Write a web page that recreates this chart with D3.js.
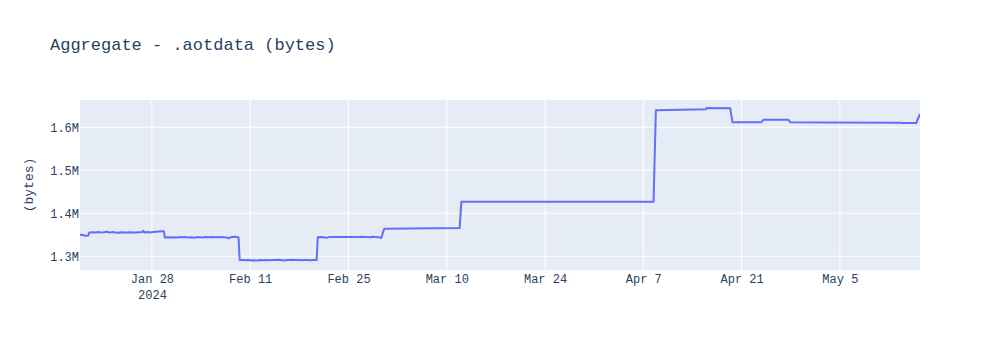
<!DOCTYPE html>
<html>
  <head>
    <meta charset="utf-8" />
    <title>Aggregate - .aotdata (bytes)</title>
    <style>
      body {
        margin: 0;
        background: #fff;
      }
      text {
        font-family: "Courier New", "Liberation Mono", monospace;
        fill: #2a3f5f;
      }
      .line {
        fill: none;
        stroke: #636efa;
        stroke-width: 2px;
        stroke-linejoin: round;
      }
      .grid line {
        stroke: #fff;
        stroke-width: 1px;
      }
    </style>
    <script src="https://d3js.org/d3.v7.min.js"></script>
  </head>
  <body>
    <div id="chart"></div>
    <script>
      // sample times and aggregate size (bytes)
      const times = [
        "2024-01-17T18:00", "2024-01-18T04:00", "2024-01-18T12:00", "2024-01-18T22:00",
        "2024-01-19T02:00", "2024-01-19T12:00", "2024-01-19T22:00", "2024-01-20T08:00",
        "2024-01-20T18:00", "2024-01-21T04:00", "2024-01-21T14:00", "2024-01-22T00:00",
        "2024-01-22T10:00", "2024-01-22T20:00", "2024-01-23T06:00", "2024-01-23T16:00",
        "2024-01-24T02:00", "2024-01-24T12:00", "2024-01-24T22:00", "2024-01-25T08:00",
        "2024-01-25T18:00", "2024-01-26T04:00", "2024-01-26T14:00", "2024-01-26T18:00",
        "2024-01-26T22:00", "2024-01-27T08:00", "2024-01-27T18:00", "2024-01-28T04:00",
        "2024-01-28T14:00", "2024-01-29T00:00", "2024-01-29T12:00", "2024-01-29T17:00",
        "2024-01-29T20:00",
        "2024-01-30T06:00", "2024-01-30T16:00", "2024-01-31T02:00", "2024-01-31T12:00",
        "2024-01-31T22:00", "2024-02-01T08:00", "2024-02-01T18:00", "2024-02-02T04:00",
        "2024-02-02T14:00", "2024-02-03T00:00", "2024-02-03T10:00", "2024-02-03T20:00",
        "2024-02-04T06:00", "2024-02-04T16:00", "2024-02-05T02:00", "2024-02-05T12:00",
        "2024-02-05T22:00", "2024-02-06T08:00", "2024-02-06T18:00", "2024-02-07T04:00",
        "2024-02-07T14:00", "2024-02-08T00:00", "2024-02-08T06:00", "2024-02-08T16:00",
        "2024-02-09T02:00", "2024-02-09T08:00", "2024-02-09T12:00",
        "2024-02-09T22:00", "2024-02-10T08:00", "2024-02-10T18:00", "2024-02-11T04:00",
        "2024-02-11T14:00", "2024-02-12T00:00", "2024-02-12T10:00", "2024-02-12T20:00",
        "2024-02-13T06:00", "2024-02-13T16:00", "2024-02-14T02:00", "2024-02-14T12:00",
        "2024-02-14T22:00", "2024-02-15T08:00", "2024-02-15T18:00", "2024-02-16T04:00",
        "2024-02-16T14:00", "2024-02-17T00:00", "2024-02-17T10:00", "2024-02-17T20:00",
        "2024-02-18T06:00", "2024-02-18T16:00", "2024-02-19T02:00", "2024-02-19T12:00",
        "2024-02-19T22:00", "2024-02-20T08:00", "2024-02-20T11:00", "2024-02-20T15:00",
        "2024-02-21T00:00", "2024-02-21T10:00", "2024-02-21T20:00", "2024-02-22T06:00",
        "2024-02-22T16:00", "2024-02-23T02:00", "2024-02-23T12:00", "2024-02-23T22:00",
        "2024-02-24T08:00", "2024-02-24T18:00", "2024-02-25T04:00", "2024-02-25T14:00",
        "2024-02-26T00:00", "2024-02-26T10:00", "2024-02-26T20:00", "2024-02-27T06:00",
        "2024-02-27T16:00", "2024-02-28T02:00", "2024-02-28T12:00", "2024-02-28T22:00",
        "2024-02-29T08:00", "2024-02-29T16:00", "2024-03-01T02:00",
        "2024-03-11T20:00", "2024-03-12T02:00", "2024-04-08T11:00", "2024-04-08T19:00",
        "2024-04-15T21:00", "2024-04-16T01:00", "2024-04-19T09:00", "2024-04-19T17:00",
        "2024-04-23T19:00", "2024-04-24T03:00", "2024-04-27T16:00", "2024-04-27T22:00",
        "2024-05-04T01:00", "2024-05-13T20:00", "2024-05-13T22:00", "2024-05-15T21:00",
        "2024-05-16T10:00"
      ];
      const sizes = [
        1350000, 1349500, 1347500, 1348000,
        1355500, 1356000, 1355000, 1356500,
        1355500, 1356000, 1357000, 1355000,
        1356500, 1355000, 1354500, 1356000,
        1355500, 1355000, 1356000, 1355000,
        1355500, 1356000, 1356500, 1359000,
        1355500, 1356500, 1355500, 1356500,
        1357000, 1357500, 1358000, 1358000,
        1343500,
        1344000, 1343500, 1344000, 1343500,
        1344500, 1344000, 1345000, 1343500,
        1344000, 1343000, 1344500, 1344000,
        1343500, 1345000, 1344000, 1344500,
        1344000, 1344500, 1344000, 1344500,
        1343500, 1342000, 1344500, 1345500,
        1345000, 1343500, 1291000,
        1291500, 1290500, 1291000, 1290000,
        1290500, 1290000, 1291000, 1290500,
        1291500, 1290500, 1291500, 1291000,
        1292000, 1291000, 1290000, 1291500,
        1291000, 1292000, 1291000, 1291500,
        1290500, 1291500, 1291000, 1290500,
        1291500, 1291000, 1291000, 1344000,
        1344500, 1344000, 1343000, 1344500,
        1345000, 1344500, 1345000, 1344500,
        1345000, 1345000, 1344500, 1345000,
        1345000, 1344500, 1345500, 1344500,
        1345000, 1344000, 1345500, 1344500,
        1344000, 1342500, 1364000,
        1366000, 1427000, 1427000, 1639500,
        1642000, 1645000, 1644500, 1611500,
        1611500, 1617500, 1617500, 1612000,
        1611000, 1610500, 1610000, 1610000,
        1631000
      ];

      // axis ticks
      const xTicks = ["2024-01-28", "2024-02-11", "2024-02-25", "2024-03-10",
                      "2024-03-24", "2024-04-07", "2024-04-21", "2024-05-05"];
      const yTicks = [1300000, 1400000, 1500000, 1600000];
      const yTickLabels = ["1.3M", "1.4M", "1.5M", "1.6M"];

      const W = 1000, H = 350;
      const margin = { top: 100, right: 80, bottom: 80, left: 80 };
      const width = W - margin.left - margin.right;
      const height = H - margin.top - margin.bottom;

      const parseTime = d3.timeParse("%Y-%m-%dT%H:%M");
      const parseDay = d3.timeParse("%Y-%m-%d");
      const data = times.map((t, i) => ({ t: parseTime(t), v: sizes[i] }));

      const svg = d3.select("#chart").append("svg")
        .attr("width", W)
        .attr("height", H);

      svg.append("text")
        .attr("x", 50)
        .attr("y", 50)
        .style("font-size", "17px")
        .text("Aggregate - .aotdata (bytes)");

      const g = svg.append("g")
        .attr("transform", `translate(${margin.left},${margin.top})`);

      const x = d3.scaleTime()
        .domain(d3.extent(data, d => d.t))
        .range([0, width]);

      const y = d3.scaleLinear()
        .domain([1268000, 1663500])
        .range([height, 0]);

      g.append("rect")
        .attr("width", width)
        .attr("height", height)
        .attr("fill", "#e5ecf6");

      // grid
      const grid = g.append("g").attr("class", "grid");
      grid.selectAll(".gx")
        .data(xTicks.map(parseDay))
        .join("line")
        .attr("x1", d => x(d)).attr("x2", d => x(d))
        .attr("y1", 0).attr("y2", height);
      grid.selectAll(".gy")
        .data(yTicks)
        .join("line")
        .attr("class", "gy")
        .attr("x1", 0).attr("x2", width)
        .attr("y1", d => y(d)).attr("y2", d => y(d));

      g.append("clipPath").attr("id", "clip")
        .append("rect").attr("width", width).attr("height", height);

      const line = d3.line()
        .x(d => x(d.t))
        .y(d => y(d.v));

      g.append("path")
        .datum(data)
        .attr("class", "line")
        .attr("clip-path", "url(#clip)")
        .attr("d", line);

      // x axis labels
      const fmt = d3.timeFormat("%b %-d");
      const xAxis = g.append("g")
        .attr("transform", `translate(0,${height})`)
        .call(d3.axisBottom(x).tickValues(xTicks.map(parseDay)).tickFormat(fmt).tickSize(0).tickPadding(0));
      xAxis.select(".domain").remove();
      xAxis.selectAll("text")
        .attr("y", 13)
        .attr("dy", 0)
        .style("font-size", "12px")
        .attr("font-family", null);
      xAxis.select(".tick text")
        .append("tspan")
        .attr("x", 0)
        .attr("dy", 16)
        .text("2024");

      // y axis labels
      const yAxis = g.append("g")
        .call(d3.axisLeft(y).tickValues(yTicks).tickFormat((d, i) => yTickLabels[i]).tickSize(0).tickPadding(1));
      yAxis.select(".domain").remove();
      yAxis.selectAll("text")
        .style("font-size", "12px")
        .attr("font-family", null);

      svg.append("text")
        .attr("transform", `translate(28,${margin.top + height / 2}) rotate(-90)`)
        .attr("text-anchor", "middle")
        .attr("dy", "0.35em")
        .style("font-size", "13px")
        .text("(bytes)");
    </script>
  </body>
</html>
